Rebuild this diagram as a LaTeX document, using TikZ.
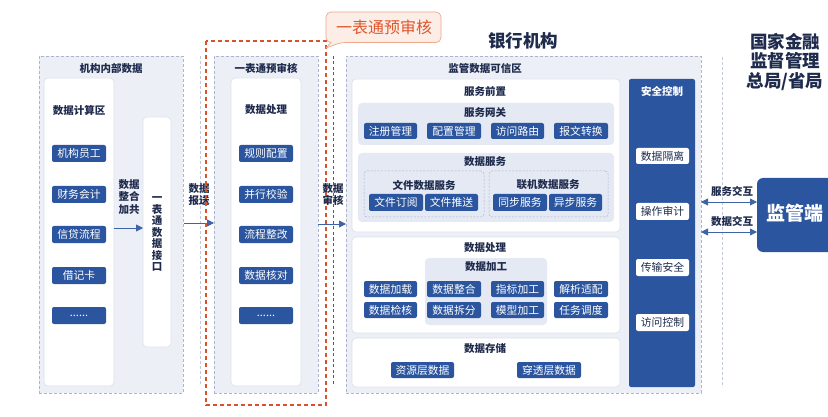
\documentclass[tikz,border=0pt]{standalone}
\usepackage{fontspec}
\setmainfont{Noto Sans CJK SC}
\usetikzlibrary{arrows.meta}
\definecolor{txt}{HTML}{1F2B4D}
\definecolor{btn}{HTML}{2B559F}
\definecolor{pfill}{HTML}{EDEFF7}
\definecolor{pline}{HTML}{AEB4CC}
\definecolor{wline}{HTML}{DCE0EA}
\definecolor{gfill}{HTML}{E4E9F4}
\definecolor{reddash}{HTML}{D9522B}
\definecolor{cfill}{HTML}{FCEEE6}
\definecolor{cline}{HTML}{EDA988}
\definecolor{ctxt}{HTML}{E0552C}
\definecolor{arr}{HTML}{3E63A6}
\definecolor{vline}{HTML}{C3C8DA}
\definecolor{vnavy}{HTML}{4A5A8A}
\newcommand\mybox[7]{\node[#1, minimum width={(#5)-(#3)}, minimum height={(#6)-(#4)}] (#2) at ({((#3)+(#5))/2},{((#4)+(#6))/2}) {#7};}
\tikzset{
  base/.style={inner sep=0pt, outer sep=0pt},
  panel/.style={base, fill=pfill, draw=pline, dashed, dash pattern=on 3pt off 2pt, line width=0.6pt},
  wbox/.style={base, fill=white, draw=wline, rounded corners=4pt, line width=0.6pt},
  gbox/.style={base, fill=gfill, rounded corners=4pt},
  dbox/.style={base, fill=gfill, draw=pline, dash pattern=on 2pt off 1.5pt, rounded corners=3pt, line width=0.5pt},
  btnbox/.style={base, fill=btn, rounded corners=2pt, text=white, font=\fontsize{10.8}{12}\selectfont},
  wbtn/.style={base, fill=white, rounded corners=2pt, text=txt, font=\fontsize{10.8}{12}\selectfont},
  lbl/.style={base, text=txt, font=\bfseries\fontsize{10.5}{12}\selectfont, align=center},
  biglbl/.style={base, text=txt, font=\bfseries\fontsize{17.5}{20}\selectfont, align=center},
  arrowline/.style={draw=arr, line width=0.9pt, -{Triangle[length=7pt,width=7pt]}},
  dblarrow/.style={draw=arr, line width=0.9pt, {Triangle[length=7pt,width=7pt]}-{Triangle[length=7pt,width=7pt]}},
}
\begin{document}
\begin{tikzpicture}[x=1pt,y=-1pt]
\useasboundingbox[fill=white] (0,0) rectangle (828,417);
% ---------- left panel
\mybox{panel}{p1}{39}{56}{183}{393}{}
\node[lbl] (p1t) at (111,68) {机构内部数据};
\mybox{wbox}{w1}{44}{78}{114}{386}{}
\node[lbl] (w1t) at (79,110) {数据计算区};
\mybox{btnbox}{a1}{52}{145}{106}{162}{机构员工}
\mybox{btnbox}{a2}{52}{186}{106}{203}{财务会计}
\mybox{btnbox}{a3}{52}{226}{106}{243}{信贷流程}
\mybox{btnbox}{a4}{52}{267}{106}{284}{借记卡}
\mybox{btnbox}{a5}{52}{307}{106}{324}{......}
\mybox{wbox}{i1}{143}{117}{171}{347}{}
\node[lbl, font=\bfseries\fontsize{10.5}{11.5}\selectfont] (i1t) at (157,234) {一\\表\\通\\数\\据\\接\\口};
\node[lbl, font=\bfseries\fontsize{10.5}{12.5}\selectfont] (zh) at (129,197) {数据\\整合\\加共};
\coordinate (a1s) at (114,228);
\coordinate (a1e) at (143,228);
\draw[arrowline] (a1s) -- (a1e);
% ---------- separators
\coordinate (l1a) at (200,56);
\coordinate (l1b) at (200,386);
\draw[vline, dash pattern=on 3pt off 2pt, line width=0.6pt] (l1a) -- (l1b);
\node[lbl] (bs) at (199,195) {数据\\报送};
% ---------- middle panel
\mybox{panel}{p2}{214}{56}{318}{393}{}
\node[lbl] (p2t) at (266,68) {一表通预审核};
\mybox{wbox}{w2}{231}{78}{301}{386}{}
\node[lbl] (w2t) at (266,110) {数据处理};
\mybox{btnbox}{b1}{239}{145}{293}{162}{规则配置}
\mybox{btnbox}{b2}{239}{186}{293}{203}{并行校验}
\mybox{btnbox}{b3}{239}{226}{293}{243}{流程整改}
\mybox{btnbox}{b4}{239}{267}{293}{284}{数据核对}
\mybox{btnbox}{b5}{239}{307}{293}{324}{......}
\coordinate (a2s) at (184,223);
\coordinate (a2e) at (214,223);
\draw[arrowline] (a2s) -- (a2e);
% red dashed frame
\coordinate (r1) at (206,41);
\coordinate (r2) at (326,405);
\draw[reddash, line width=1.1pt, dash pattern=on 4pt off 3pt] (r1) rectangle (r2);
% navy dashed
\coordinate (l2a) at (333,56);
\coordinate (l2b) at (333,386);
\draw[vnavy, dash pattern=on 3pt off 2.5pt, line width=0.7pt] (l2a) -- (l2b);
\node[lbl] (sh) at (333,195) {数据\\审核};
\coordinate (a3s) at (318,224);
\coordinate (a3e) at (346,224);
\draw[arrowline] (a3s) -- (a3e);
% callout
\coordinate (ct1) at (326,48);
\draw[fill=cfill, draw=cline, line width=0.7pt, rounded corners=5pt] (326,42.5) -- (326,12) -- (441,12) -- (441,42.5) -- (341,42.5)[sharp corners] -- (ct1) -- (331,42.5)[rounded corners=5pt] -- cycle;
\node[base, text=ctxt, font=\fontsize{16}{18}\selectfont] (ctt) at (384,27) {一表通预审核};
% ---------- right panel
\node[biglbl] (bank) at (523,41) {银行机构};
\mybox{panel}{p3}{346}{56}{701}{393}{}
\node[lbl] (p3t) at (485,68) {监管数据可信区};
% 服务前置
\mybox{wbox}{w3}{352}{79}{620}{232}{}
\node[lbl] (w3t) at (485,92) {服务前置};
\mybox{gbox}{g1}{358}{103}{614}{145}{}
\node[lbl] (g1t) at (485,113) {服务网关};
\mybox{btnbox}{c1}{364}{123}{417}{139}{注册管理}
\mybox{btnbox}{c2}{427}{123}{481}{139}{配置管理}
\mybox{btnbox}{c3}{491}{123}{544}{139}{访问路由}
\mybox{btnbox}{c4}{554}{123}{608}{139}{报文转换}
\mybox{gbox}{g2}{358}{153}{614}{222}{}
\node[lbl] (g2t) at (485,162) {数据服务};
\mybox{dbox}{d1}{364}{171}{484}{217}{}
\mybox{dbox}{d2}{489}{171}{608}{217}{}
\node[lbl] (d1t) at (424,185) {文件数据服务};
\node[lbl] (d2t) at (548,185) {联机数据服务};
\mybox{btnbox}{e1}{369}{194}{423}{211}{文件订阅}
\mybox{btnbox}{e2}{425}{194}{478}{211}{文件推送}
\mybox{btnbox}{e3}{493}{194}{547}{211}{同步服务}
\mybox{btnbox}{e4}{549}{194}{602}{211}{异步服务}
% 数据处理
\mybox{wbox}{w4}{352}{237}{620}{333}{}
\node[lbl] (w4t) at (485,248) {数据处理};
\mybox{gbox}{g3}{425}{258}{547}{325}{}
\node[lbl] (g3t) at (486,267) {数据加工};
\mybox{btnbox}{f1}{364}{281}{417}{297}{数据加载}
\mybox{btnbox}{f2}{427}{281}{481}{297}{数据整合}
\mybox{btnbox}{f3}{491}{281}{544}{297}{指标加工}
\mybox{btnbox}{f4}{554}{281}{608}{297}{解析适配}
\mybox{btnbox}{f5}{364}{302}{417}{318}{数据检核}
\mybox{btnbox}{f6}{427}{302}{481}{318}{数据拆分}
\mybox{btnbox}{f7}{491}{302}{544}{318}{模型加工}
\mybox{btnbox}{f8}{554}{302}{608}{318}{任务调度}
% 数据存储
\mybox{wbox}{w5}{352}{338}{620}{387}{}
\node[lbl] (w5t) at (485,349) {数据存储};
\mybox{btnbox}{h1}{391}{362}{454}{378}{资源层数据}
\mybox{btnbox}{h2}{517}{362}{581}{378}{穿透层数据}
% 安全控制
\mybox{btnbox}{s}{629}{79}{695}{387}{}
\node[lbl, text=white] (st) at (662,92) {安全控制};
\mybox{wbtn}{s1}{636}{148}{689}{164}{数据隔离}
\mybox{wbtn}{s2}{636}{203}{689}{220}{操作审计}
\mybox{wbtn}{s3}{636}{259}{689}{276}{传输安全}
\mybox{wbtn}{s4}{636}{314}{689}{331}{访问控制}
% ---------- regulator side
\coordinate (l3a) at (722,57);
\coordinate (l3b) at (722,387);
\draw[vline, dash pattern=on 3pt off 2pt, line width=0.6pt] (l3a) -- (l3b);
\node[biglbl, font=\bfseries\fontsize{17.5}{19.5}\selectfont] (reg) at (785,62) {国家金融\\监督管理\\总局/省局};
\node[base, fill=btn, rounded corners=6pt, minimum width=82, minimum height=74] (m) at (798,215) {};
\node[base, text=white, font=\bfseries\fontsize{19}{22}\selectfont] (mt) at (795,213) {监管端};
\coordinate (x1a) at (701,202);
\coordinate (x1b) at (757,202);
\coordinate (x2a) at (701,232);
\coordinate (x2b) at (757,232);
\draw[dblarrow] (x1a) -- (x1b);
\draw[dblarrow] (x2a) -- (x2b);
\node[lbl] (fw) at (732,191) {服务交互};
\node[lbl] (sj) at (732,221) {数据交互};
\end{tikzpicture}
\end{document}
